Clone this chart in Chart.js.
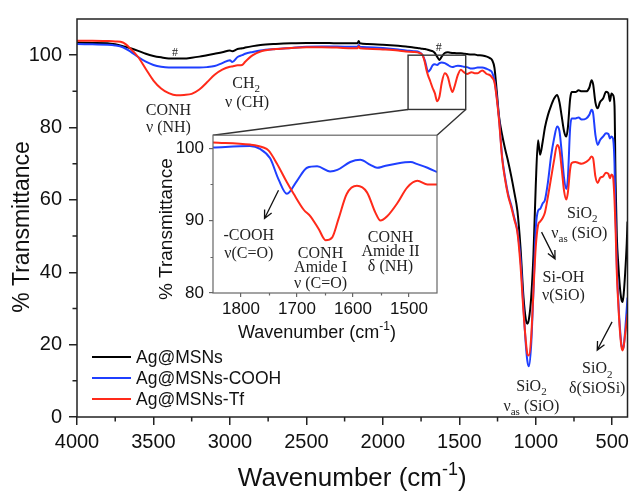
<!DOCTYPE html>
<html>
<head>
<meta charset="utf-8">
<script src="https://cdn.jsdelivr.net/npm/chart.js@4.4.1/dist/chart.umd.min.js"></script>
<style>
  html, body { margin: 0; padding: 0; background: #fff; }
  #wrap { position: relative; width: 634px; height: 493px; }
  #main { position: absolute; left: 0; top: 0; }
  #inset { position: absolute; left: 140px; top: 120px; }
</style>
</head>
<body>
<div id="wrap">
  <canvas id="main" width="634" height="493"></canvas>
  <canvas id="inset" width="310" height="226"></canvas>
</div>
<script>
// ---- data ----
const seriesNames = ['Ag@MSNs', 'Ag@MSNs-COOH', 'Ag@MSNs-Tf'];
const seriesColors = ['#000000', '#1f3fff', '#ff2a1a'];

const wavenumbers = [4000, 3900, 3800, 3750, 3700, 3650, 3600, 3550, 3500, 3450, 3400, 3350, 3300, 3250, 3200, 3150, 3100, 3050, 3000, 2985,
  2950, 2920, 2900, 2850, 2800, 2700, 2600, 2500, 2400, 2300, 2200, 2165, 2158, 2150, 2100, 2000, 1900, 1850, 1800, 1760,
  1740, 1725, 1715, 1705, 1690, 1675, 1660, 1645, 1630, 1615, 1595, 1575, 1560, 1545, 1530, 1510, 1490, 1470, 1450, 1420,
  1400, 1380, 1350, 1320, 1300, 1285, 1270, 1255, 1240, 1220, 1200, 1180, 1160, 1140, 1120, 1100, 1080, 1065, 1055, 1045,
  1030, 1015, 1000, 985, 972, 955, 940, 920, 900, 880, 860, 845, 830, 815, 800, 790, 775, 765, 740, 720,
  700, 670, 650, 635, 625, 610, 595, 580, 560, 540, 525, 515, 505, 495, 485, 478, 470, 460, 450, 440,
  432, 425, 415, 405, 400];

const agMSNs = [103.5, 103.4, 103.3, 103.0, 102.5, 101.9, 101.2, 100.4, 99.8, 99.4, 99.1, 99.1, 99.1, 99.3, 99.6, 100.0, 100.4, 100.8, 101.3, 101.1,
  101.7, 101.9, 102.1, 102.5, 102.8, 103.1, 103.3, 103.4, 103.4, 103.3, 103.3, 103.3, 103.9, 103.3, 103.1, 102.9, 102.6, 102.4, 102.1, 101.9,
  101.8, 101.7, 101.6, 101.5, 101.3, 101.1, 100.6, 99.6, 98.7, 99.6, 100.6, 100.8, 100.7, 100.6, 100.6, 100.5, 100.5, 100.4, 100.3, 100.2,
  100.2, 100.0, 99.9, 99.6, 99.2, 98.6, 96.5, 90.0, 83.0, 78.0, 74.0, 70.5, 66.5, 62.0, 57.0, 47.0, 33.0, 27.0, 25.8, 27.0,
  33.0, 45.0, 64.0, 76.5, 72.5, 76.0, 80.0, 83.5, 86.0, 88.0, 89.0, 87.0, 83.0, 79.0, 77.5, 80.0, 88.0, 89.8, 89.8, 90.3,
  90.0, 90.0, 91.0, 93.1, 92.0, 87.0, 85.3, 87.0, 88.0, 89.9, 89.5, 87.3, 89.4, 89.0, 86.0, 65.0, 50.0, 42.0, 36.0, 32.5,
  31.8, 34.0, 40.0, 48.0, 54.0];

const agMSNsCOOH = [103.1, 103.0, 102.9, 102.7, 102.2, 101.0, 99.5, 98.2, 97.3, 96.8, 96.6, 96.6, 96.6, 96.6, 96.6, 96.7, 97.0, 97.8, 98.6, 98.1,
  99.5, 100.0, 100.4, 100.9, 101.3, 101.7, 102.0, 102.3, 102.4, 102.4, 102.3, 102.3, 102.8, 102.3, 102.2, 102.0, 101.6, 101.3, 101.1, 100.8,
  100.0, 98.5, 96.8, 95.4, 96.0, 97.2, 97.5, 97.3, 97.8, 98.0, 97.8, 97.3, 96.9, 96.7, 96.9, 97.1, 97.0, 96.8, 96.7, 96.3,
  96.4, 96.6, 96.6, 96.2, 95.8, 95.2, 93.0, 88.5, 82.5, 72.0, 66.0, 61.5, 58.5, 55.0, 51.5, 44.0, 30.0, 20.0, 15.5, 14.0,
  20.0, 35.0, 52.0, 57.0, 57.5, 59.0, 60.0, 65.0, 72.0, 77.0, 80.3, 79.0, 73.0, 66.0, 63.0, 66.0, 80.0, 82.5, 82.5, 82.8,
  82.2, 82.5, 83.5, 84.9, 84.0, 78.0, 75.2, 76.5, 77.5, 78.4, 78.2, 77.0, 77.5, 77.0, 70.0, 55.0, 42.0, 32.0, 25.0, 20.0,
  18.8, 19.5, 24.0, 30.0, 33.0];

const agMSNsTf = [104.0, 104.0, 103.9, 103.8, 103.5, 101.8, 99.5, 96.2, 93.0, 90.8, 89.5, 88.9, 89.0, 89.3, 90.5, 92.5, 94.6, 96.0, 96.8, 96.9,
  97.2, 97.3, 98.2, 100.0, 101.0, 101.7, 102.0, 102.2, 102.2, 102.1, 101.9, 101.9, 102.5, 101.9, 101.8, 101.6, 101.3, 101.0, 100.9, 100.6,
  100.0, 98.0, 96.0, 94.5, 92.8, 91.0, 89.5, 87.3, 88.5, 92.3, 95.0, 94.0, 91.5, 89.8, 91.5, 94.5, 96.0, 95.3, 94.8, 95.3,
  95.0, 95.0, 95.8, 94.8, 94.5, 93.8, 92.5, 88.0, 82.0, 71.5, 65.5, 61.0, 58.0, 54.5, 51.0, 42.0, 29.0, 21.0, 17.5, 17.0,
  22.0, 35.0, 47.0, 53.0, 54.0, 55.0, 56.5, 61.0, 66.0, 71.0, 75.2, 74.0, 68.5, 62.5, 60.1, 62.0, 68.5, 70.2, 70.5, 70.2,
  70.0, 70.5, 71.2, 72.0, 71.5, 66.5, 64.7, 66.0, 66.5, 67.5, 67.2, 66.0, 67.0, 66.5, 60.0, 52.0, 40.0, 31.0, 24.0, 19.5,
  18.4, 19.5, 23.0, 26.5, 28.5];

// inset (1850-1450 cm-1)
const insetCoohWn = [1850, 1784, 1766, 1748, 1733, 1718, 1700, 1682, 1664, 1641, 1628, 1605, 1587, 1569, 1557, 1545, 1521, 1497, 1485, 1467, 1450];
const insetCooh = [100.1, 100.3, 99.9, 98.6, 95.7, 93.7, 95.5, 97.3, 97.5, 96.8, 97.0, 98.1, 98.4, 97.7, 97.3, 97.5, 97.9, 98.1, 97.8, 97.3, 96.7];
const insetTfWn = [1850, 1784, 1760, 1751, 1736, 1718, 1706, 1688, 1676, 1661, 1649, 1637, 1626, 1611, 1593, 1575, 1560, 1551, 1539, 1521, 1503, 1485, 1467, 1450];
const insetTf = [100.8, 100.5, 100.1, 99.7, 97.9, 95.3, 93.7, 91.5, 90.6, 88.8, 87.3, 87.7, 90.2, 93.7, 94.8, 93.9, 91.1, 90.0, 90.6, 92.4, 94.6, 95.5, 95.0, 95.0];

// ticks
const xTicks = [4000, 3500, 3000, 2500, 2000, 1500, 1000, 500];
const xMinorTicks = [3750, 3250, 2750, 2250, 1750, 1250, 750];
const yTicks = [0, 20, 40, 60, 80, 100];
const yMinorTicks = [10, 30, 50, 70, 90];
const insetXTicks = [1800, 1700, 1600, 1500];
const insetXMinorTicks = [1750, 1650, 1550];
const insetYTicks = [80, 90, 100];
const insetYMinorTicks = [85, 95];

// ---- helpers ----
const sans = 'Arial, "Liberation Sans", sans-serif';
const serif = '"Liberation Serif", "Times New Roman", serif';

function pts(xs, ys) {
  return xs.map((x, i) => ({x: x, y: ys[i]}));
}

function drawRich(ctx, parts, cx, cy, size, family) {
  let w = 0;
  const pieces = parts.map(([t, k]) => {
    const fs = k ? Math.round(size * 0.68) : size;
    ctx.font = fs + 'px ' + family;
    const pw = ctx.measureText(t).width;
    w += pw;
    return {t: t, k: k, fs: fs, pw: pw};
  });
  let x = cx - w / 2;
  ctx.textAlign = 'left';
  ctx.textBaseline = 'alphabetic';
  for (const p of pieces) {
    ctx.font = p.fs + 'px ' + family;
    let dy = 0;
    if (p.k === 'sub') dy = size * 0.28;
    if (p.k === 'sup') dy = -size * 0.42;
    ctx.fillText(p.t, x, cy + dy);
    x += p.pw;
  }
}

function drawArrow(ctx, x1, y1, x2, y2) {
  const a = Math.atan2(y2 - y1, x2 - x1);
  const h = 9;
  ctx.beginPath();
  ctx.moveTo(x1, y1);
  ctx.lineTo(x2, y2);
  ctx.moveTo(x2 - h * Math.cos(a - 0.45), y2 - h * Math.sin(a - 0.45));
  ctx.lineTo(x2, y2);
  ctx.lineTo(x2 - h * Math.cos(a + 0.45), y2 - h * Math.sin(a + 0.45));
  ctx.stroke();
}

function axis(o) {
  return {
    type: 'linear', min: o.min, max: o.max, reverse: !!o.reverse,
    afterBuildTicks: s => { s.ticks = o.ticks.map(v => ({value: v})); },
    afterFit: s => {
      if (o.width) s.width = o.width;
      if (o.height) s.height = o.height;
    },
    border: {display: false},
    grid: {drawOnChartArea: false, drawTicks: true, tickLength: o.tickLength,
           color: o.color, tickColor: o.color, lineWidth: o.lw, tickWidth: o.lw},
    ticks: {font: {family: sans, size: o.fontSize}, color: '#111', padding: o.padding,
            maxRotation: 0, autoSkip: false, callback: v => String(v)}
  };
}

function dataset(i, xs, ys, width) {
  return {
    label: seriesNames[i], data: pts(xs, ys),
    borderColor: seriesColors[i], backgroundColor: seriesColors[i],
    borderWidth: width, pointRadius: 0, fill: false,
    cubicInterpolationMode: 'monotone', order: 3 - i
  };
}

// annotations, in data coordinates
const mainNotes = [
  {wn: 3359, v: 99.8, size: 12, parts: [['#']]},
  {wn: 1634, v: 101.1, size: 12, parts: [['#']]},
  {wn: 3402, v: 83.6, parts: [['CONH']]},
  {wn: 3402, v: 78.8, parts: [['ν (NH)']]},
  {wn: 2894, v: 91.0, parts: [['CH'], ['2', 'sub']]},
  {wn: 2888, v: 85.6, parts: [['ν (CH)']]},
  {wn: 696, v: 55.0, parts: [['SiO'], ['2', 'sub']]},
  {wn: 715, v: 49.5, parts: [['ν'], ['as', 'sub'], [' (SiO)']]},
  {wn: 819, v: 37.3, parts: [['Si-OH']]},
  {wn: 819, v: 32.4, parts: [['ν(SiO)']]},
  {wn: 1028, v: 7.2, parts: [['SiO'], ['2', 'sub']]},
  {wn: 1028, v: 1.7, parts: [['ν'], ['as', 'sub'], [' (SiO)']]},
  {wn: 598, v: 12.1, parts: [['SiO'], ['2', 'sub']]},
  {wn: 598, v: 6.6, parts: [['δ(SiOSi)']]}
];
const mainArrows = [
  {from: [962, 51.1], to: [874, 43.7]},
  {from: [501, 26.3], to: [598, 18.5]}
];
const zoomBox = {wnLeft: 1835, wnRight: 1458, vTop: 100, vBottom: 85};

const insetNotes = [
  {wn: 1786, v: 87.3, parts: [['-COOH']]},
  {wn: 1786, v: 84.8, parts: [['ν(C=O)']]},
  {wn: 1658, v: 84.9, parts: [['CONH']]},
  {wn: 1658, v: 82.9, parts: [['Amide I']]},
  {wn: 1658, v: 80.7, parts: [['ν (C=O)']]},
  {wn: 1533, v: 87.1, parts: [['CONH']]},
  {wn: 1533, v: 85.1, parts: [['Amide II']]},
  {wn: 1533, v: 83.1, parts: [['δ (NH)']]}
];
const insetArrows = [
  {from: [1733, 94.2], to: [1758, 90.3]}
];

// ---- inset chart ----
const insetCanvas = document.getElementById('inset');
const insetDecor = {
  id: 'insetDecor',
  beforeDraw(chart) {
    const {ctx, chartArea: a} = chart;
    ctx.save();
    ctx.fillStyle = '#fff';
    ctx.fillRect(a.left, a.top, a.right - a.left, a.bottom - a.top);
    ctx.restore();
  },
  afterDraw(chart) {
    const {ctx, chartArea: a, scales: {x, y}} = chart;
    ctx.save();
    ctx.strokeStyle = '#666';
    ctx.lineWidth = 1.2;
    ctx.strokeRect(a.left, a.top, a.right - a.left, a.bottom - a.top);
    ctx.beginPath();
    insetXMinorTicks.forEach(v => {
      const px = Math.round(x.getPixelForValue(v)) + 0.5;
      ctx.moveTo(px, a.bottom); ctx.lineTo(px, a.bottom + 2.5);
    });
    insetYMinorTicks.forEach(v => {
      const py = Math.round(y.getPixelForValue(v)) + 0.5;
      ctx.moveTo(a.left - 2.5, py); ctx.lineTo(a.left, py);
    });
    ctx.stroke();

    ctx.fillStyle = '#222';
    insetNotes.forEach(n => {
      drawRich(ctx, n.parts, x.getPixelForValue(n.wn), y.getPixelForValue(n.v), 16, serif);
    });
    ctx.strokeStyle = '#111';
    ctx.lineWidth = 1.3;
    insetArrows.forEach(ar => {
      drawArrow(ctx, x.getPixelForValue(ar.from[0]), y.getPixelForValue(ar.from[1]),
                x.getPixelForValue(ar.to[0]), y.getPixelForValue(ar.to[1]));
    });

    // axis titles
    ctx.fillStyle = '#111';
    drawRich(ctx, [['Wavenumber (cm'], ['-1', 'sup'], [')']], a.left + 104, a.bottom + 45, 18, sans);
    ctx.translate(a.left - 46, a.top + 94);
    ctx.rotate(-Math.PI / 2);
    ctx.font = '19px ' + sans;
    ctx.textAlign = 'center';
    ctx.textBaseline = 'middle';
    ctx.fillText('% Transmittance', 0, 0);
    ctx.restore();
  }
};

const insetChart = new Chart(insetCanvas, {
  type: 'line',
  data: {
    datasets: [
      dataset(1, insetCoohWn, insetCooh, 2),
      dataset(2, insetTfWn, insetTf, 2)
    ]
  },
  options: {
    responsive: false, animation: false,
    layout: {padding: {left: 0, top: 9, right: 13, bottom: 0}},
    plugins: {legend: {display: false}, tooltip: {enabled: false}},
    scales: {
      x: axis({min: 1450, max: 1850, reverse: true, ticks: insetXTicks, height: 53,
               tickLength: 4, color: '#666', lw: 1.2, fontSize: 17, padding: 2}),
      y: axis({min: 80, max: 101.8, ticks: insetYTicks, width: 73,
               tickLength: 4, color: '#666', lw: 1.2, fontSize: 17, padding: 5})
    }
  },
  plugins: [insetDecor]
});

// ---- main chart ----
const mainDecor = {
  id: 'mainDecor',
  afterDraw(chart) {
    const {ctx, chartArea: a, scales: {x, y}} = chart;
    ctx.save();
    // frame and minor ticks
    ctx.strokeStyle = '#222';
    ctx.lineWidth = 1.5;
    ctx.strokeRect(a.left, a.top, a.right - a.left, a.bottom - a.top);
    ctx.beginPath();
    xMinorTicks.forEach(v => {
      const px = x.getPixelForValue(v);
      ctx.moveTo(px, a.bottom); ctx.lineTo(px, a.bottom + 4.5);
    });
    yMinorTicks.forEach(v => {
      const py = y.getPixelForValue(v);
      ctx.moveTo(a.left - 4.5, py); ctx.lineTo(a.left, py);
    });
    ctx.stroke();

    // zoom box and connectors to the inset
    const bl = x.getPixelForValue(zoomBox.wnLeft), br = x.getPixelForValue(zoomBox.wnRight);
    const bt = y.getPixelForValue(zoomBox.vTop), bb = y.getPixelForValue(zoomBox.vBottom);
    const ia = insetChart.chartArea;
    const ox = insetCanvas.offsetLeft, oy = insetCanvas.offsetTop;
    ctx.strokeStyle = '#333';
    ctx.lineWidth = 1.4;
    ctx.strokeRect(bl, bt, br - bl, bb - bt);
    ctx.beginPath();
    ctx.moveTo(bl, bb); ctx.lineTo(ox + ia.left, oy + ia.top);
    ctx.moveTo(br, bb); ctx.lineTo(ox + ia.right, oy + ia.top);
    ctx.stroke();

    // annotations
    ctx.fillStyle = '#222';
    mainNotes.forEach(n => {
      drawRich(ctx, n.parts, x.getPixelForValue(n.wn), y.getPixelForValue(n.v), n.size || 16, serif);
    });
    ctx.strokeStyle = '#111';
    ctx.lineWidth = 1.3;
    mainArrows.forEach(ar => {
      drawArrow(ctx, x.getPixelForValue(ar.from[0]), y.getPixelForValue(ar.from[1]),
                x.getPixelForValue(ar.to[0]), y.getPixelForValue(ar.to[1]));
    });

    // legend
    chart.data.datasets.forEach((ds, i) => {
      const ly = a.bottom - 60 + i * 21;
      ctx.strokeStyle = ds.borderColor;
      ctx.lineWidth = 2;
      ctx.beginPath();
      ctx.moveTo(a.left + 15, ly); ctx.lineTo(a.left + 54, ly);
      ctx.stroke();
      ctx.fillStyle = '#111';
      ctx.font = '17.5px ' + sans;
      ctx.textAlign = 'left';
      ctx.textBaseline = 'middle';
      ctx.fillText(ds.label, a.left + 59, ly + 1);
    });

    // axis titles
    ctx.fillStyle = '#111';
    drawRich(ctx, [['Wavenumber (cm'], ['-1', 'sup'], [')']], (a.left + a.right) / 2, 486, 26, sans);
    ctx.translate(22.5, 227);
    ctx.rotate(-Math.PI / 2);
    ctx.font = '23px ' + sans;
    ctx.textAlign = 'center';
    ctx.textBaseline = 'middle';
    ctx.fillText('% Transmittance', 0, 0);
    ctx.restore();
  }
};

new Chart(document.getElementById('main'), {
  type: 'line',
  data: {
    datasets: [
      dataset(0, wavenumbers, agMSNs, 2),
      dataset(1, wavenumbers, agMSNsCOOH, 2),
      dataset(2, wavenumbers, agMSNsTf, 2)
    ]
  },
  options: {
    responsive: false, animation: false,
    layout: {padding: {left: 0, top: 12, right: 3.5, bottom: 0}},
    plugins: {legend: {display: false}, tooltip: {enabled: false}},
    scales: {
      x: axis({min: 400, max: 4000, reverse: true, ticks: xTicks, height: 76,
               tickLength: 8, color: '#222', lw: 1.5, fontSize: 20, padding: 5}),
      y: axis({min: 0, max: 110, ticks: yTicks, width: 77,
               tickLength: 8, color: '#222', lw: 1.5, fontSize: 20, padding: 7})
    }
  },
  plugins: [mainDecor]
});
</script>
</body>
</html>
